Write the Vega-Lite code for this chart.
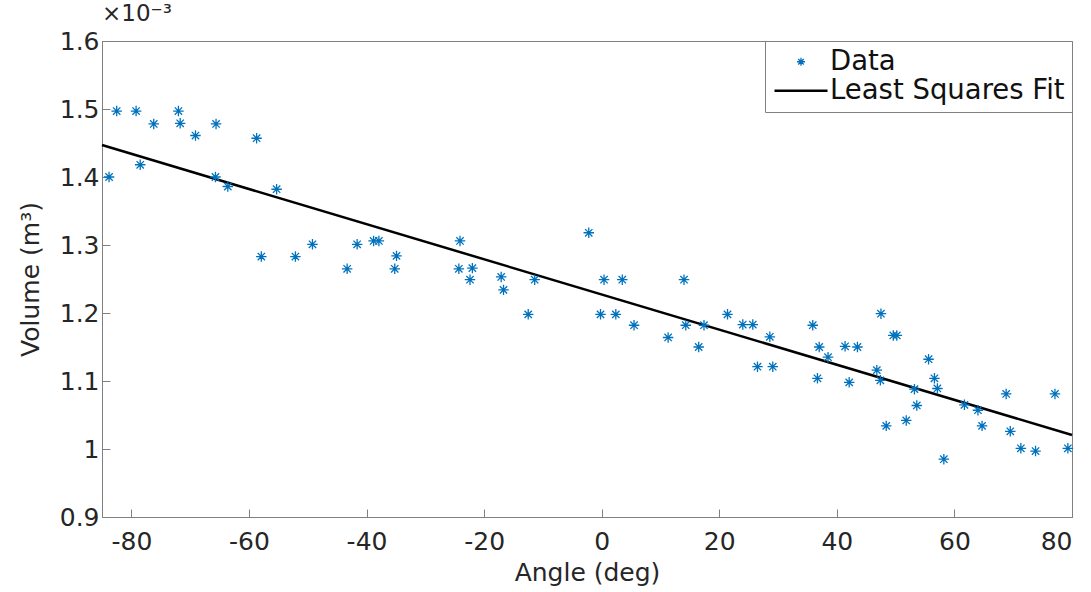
{
  "$schema": "https://vega.github.io/schema/vega-lite/v6.json",
  "autosize": {"type": "none"},
  "width": 970,
  "height": 476,
  "padding": {"left": 102, "top": 41, "right": 19, "bottom": 75},
  "background": "white",
  "title": {"text": "×10⁻³", "anchor": "start", "frame": "group", "fontSize": 23, "fontWeight": "normal", "font": "DejaVu Sans", "color": "#262626", "offset": 3},
  "config": {
    "font": "DejaVu Sans",
    "view": {"stroke": "#808080", "strokeWidth": 1},
    "axis": {"labelFont": "DejaVu Sans", "titleFont": "DejaVu Sans", "labelFontSize": 25, "titleFontSize": 25, "labelColor": "#262626", "titleColor": "#262626", "titleFontWeight": "normal", "domainColor": "#808080", "tickColor": "#808080", "grid": false, "tickSize": -8},
    "legend": {"orient": "top-right", "offset": 0, "strokeColor": "#808080", "fillColor": "white", "padding": 7, "labelFont": "DejaVu Sans", "labelFontSize": 27.5, "labelColor": "#111111", "labelLimit": 400, "title": null, "rowPadding": 0, "labelOffset": 4}
  },
  "layer": [
    {
      "data": {"values": [
        {"angle": -85, "volume": 1.447, "series": "Least Squares Fit"},
        {"angle": 80, "volume": 1.0205, "series": "Least Squares Fit"}
      ]},
      "mark": {"type": "line", "strokeWidth": 2.5},
      "encoding": {
        "x": {"field": "angle", "type": "quantitative"},
        "y": {"field": "volume", "type": "quantitative"},
        "color": {"field": "series", "type": "nominal"}
      }
    },
    {
      "data": {"values": [
        {"angle": -83.8, "volume": 1.400, "series": "Data"},
        {"angle": -82.5, "volume": 1.497, "series": "Data"},
        {"angle": -79.2, "volume": 1.497, "series": "Data"},
        {"angle": -78.5, "volume": 1.418, "series": "Data"},
        {"angle": -76.2, "volume": 1.478, "series": "Data"},
        {"angle": -72.0, "volume": 1.497, "series": "Data"},
        {"angle": -71.7, "volume": 1.479, "series": "Data"},
        {"angle": -69.1, "volume": 1.461, "series": "Data"},
        {"angle": -65.7, "volume": 1.400, "series": "Data"},
        {"angle": -65.6, "volume": 1.478, "series": "Data"},
        {"angle": -63.6, "volume": 1.386, "series": "Data"},
        {"angle": -58.7, "volume": 1.457, "series": "Data"},
        {"angle": -57.9, "volume": 1.283, "series": "Data"},
        {"angle": -55.3, "volume": 1.382, "series": "Data"},
        {"angle": -52.1, "volume": 1.283, "series": "Data"},
        {"angle": -49.2, "volume": 1.301, "series": "Data"},
        {"angle": -43.3, "volume": 1.265, "series": "Data"},
        {"angle": -41.6, "volume": 1.301, "series": "Data"},
        {"angle": -38.8, "volume": 1.306, "series": "Data"},
        {"angle": -37.9, "volume": 1.306, "series": "Data"},
        {"angle": -35.2, "volume": 1.265, "series": "Data"},
        {"angle": -34.9, "volume": 1.284, "series": "Data"},
        {"angle": -24.3, "volume": 1.265, "series": "Data"},
        {"angle": -24.1, "volume": 1.306, "series": "Data"},
        {"angle": -22.4, "volume": 1.249, "series": "Data"},
        {"angle": -22.0, "volume": 1.266, "series": "Data"},
        {"angle": -17.1, "volume": 1.253, "series": "Data"},
        {"angle": -16.7, "volume": 1.234, "series": "Data"},
        {"angle": -12.5, "volume": 1.198, "series": "Data"},
        {"angle": -11.4, "volume": 1.249, "series": "Data"},
        {"angle": -2.2, "volume": 1.318, "series": "Data"},
        {"angle": -0.2, "volume": 1.198, "series": "Data"},
        {"angle": 0.4, "volume": 1.249, "series": "Data"},
        {"angle": 2.4, "volume": 1.198, "series": "Data"},
        {"angle": 3.5, "volume": 1.249, "series": "Data"},
        {"angle": 5.5, "volume": 1.182, "series": "Data"},
        {"angle": 11.3, "volume": 1.164, "series": "Data"},
        {"angle": 14.0, "volume": 1.249, "series": "Data"},
        {"angle": 14.3, "volume": 1.182, "series": "Data"},
        {"angle": 16.5, "volume": 1.150, "series": "Data"},
        {"angle": 17.4, "volume": 1.182, "series": "Data"},
        {"angle": 21.4, "volume": 1.198, "series": "Data"},
        {"angle": 24.0, "volume": 1.183, "series": "Data"},
        {"angle": 25.7, "volume": 1.183, "series": "Data"},
        {"angle": 26.5, "volume": 1.121, "series": "Data"},
        {"angle": 28.6, "volume": 1.165, "series": "Data"},
        {"angle": 29.1, "volume": 1.121, "series": "Data"},
        {"angle": 35.9, "volume": 1.182, "series": "Data"},
        {"angle": 36.7, "volume": 1.104, "series": "Data"},
        {"angle": 37.0, "volume": 1.150, "series": "Data"},
        {"angle": 38.5, "volume": 1.135, "series": "Data"},
        {"angle": 41.4, "volume": 1.151, "series": "Data"},
        {"angle": 42.1, "volume": 1.098, "series": "Data"},
        {"angle": 43.5, "volume": 1.150, "series": "Data"},
        {"angle": 46.8, "volume": 1.116, "series": "Data"},
        {"angle": 47.4, "volume": 1.101, "series": "Data"},
        {"angle": 47.5, "volume": 1.199, "series": "Data"},
        {"angle": 48.4, "volume": 1.034, "series": "Data"},
        {"angle": 49.6, "volume": 1.167, "series": "Data"},
        {"angle": 50.2, "volume": 1.167, "series": "Data"},
        {"angle": 51.8, "volume": 1.042, "series": "Data"},
        {"angle": 53.2, "volume": 1.088, "series": "Data"},
        {"angle": 53.6, "volume": 1.064, "series": "Data"},
        {"angle": 55.6, "volume": 1.132, "series": "Data"},
        {"angle": 56.6, "volume": 1.104, "series": "Data"},
        {"angle": 57.1, "volume": 1.089, "series": "Data"},
        {"angle": 58.2, "volume": 0.985, "series": "Data"},
        {"angle": 61.7, "volume": 1.065, "series": "Data"},
        {"angle": 64.0, "volume": 1.057, "series": "Data"},
        {"angle": 64.7, "volume": 1.034, "series": "Data"},
        {"angle": 68.8, "volume": 1.081, "series": "Data"},
        {"angle": 69.5, "volume": 1.026, "series": "Data"},
        {"angle": 71.3, "volume": 1.001, "series": "Data"},
        {"angle": 73.8, "volume": 0.997, "series": "Data"},
        {"angle": 77.1, "volume": 1.081, "series": "Data"},
        {"angle": 79.3, "volume": 1.001, "series": "Data"}
      ]},
      "mark": {"type": "point", "filled": false, "size": 110, "strokeWidth": 1.3, "opacity": 1},
      "encoding": {
        "x": {"field": "angle", "type": "quantitative"},
        "y": {"field": "volume", "type": "quantitative"},
        "color": {"field": "series", "type": "nominal"},
        "shape": {"field": "series", "type": "nominal", "scale": {"domain": ["Data", "Least Squares Fit"], "range": ["M-1,0L1,0M0,-1L0,1M-0.7,-0.7L0.7,0.7M-0.7,0.7L0.7,-0.7", "stroke"]}, "legend": null}
      }
    }
  ],
  "encoding": {
    "x": {"field": "angle", "type": "quantitative", "scale": {"domain": [-85, 80], "nice": false, "zero": false}, "axis": {"title": "Angle (deg)", "values": [-80, -60, -40, -20, 0, 20, 40, 60, 80], "labelExpr": "toString(datum.value)", "labelPadding": 20, "titlePadding": 6}},
    "y": {"field": "volume", "type": "quantitative", "scale": {"domain": [0.9, 1.6], "nice": false, "zero": false}, "axis": {"title": "Volume (m³)", "values": [0.9, 1.0, 1.1, 1.2, 1.3, 1.4, 1.5, 1.6], "labelExpr": "toString(round(datum.value*10)/10)", "labelPadding": 11, "titlePadding": 16}},
    "color": {"field": "series", "type": "nominal", "scale": {"domain": ["Data", "Least Squares Fit"], "range": ["#0072BD", "#000000"]}, "legend": {"symbolType": "stroke", "symbolSize": 400, "symbolStrokeWidth": 2.5, "encode": {"symbols": {"update": {"xc": {"value": 29}, "shape": {"signal": "datum.value === 'Data' ? 'M-1,0L1,0M0,-1L0,1M-0.7,-0.7L0.7,0.7M-0.7,0.7L0.7,-0.7' : 'stroke'"}, "size": {"signal": "datum.value === 'Data' ? 64 : 2809"}, "strokeWidth": {"signal": "datum.value === 'Data' ? 1.3 : 2.5"}, "stroke": {"signal": "datum.value === 'Data' ? '#0072BD' : '#000000'"}}}, "labels": {"update": {"x": {"value": 58}}}}}}
  }
}
